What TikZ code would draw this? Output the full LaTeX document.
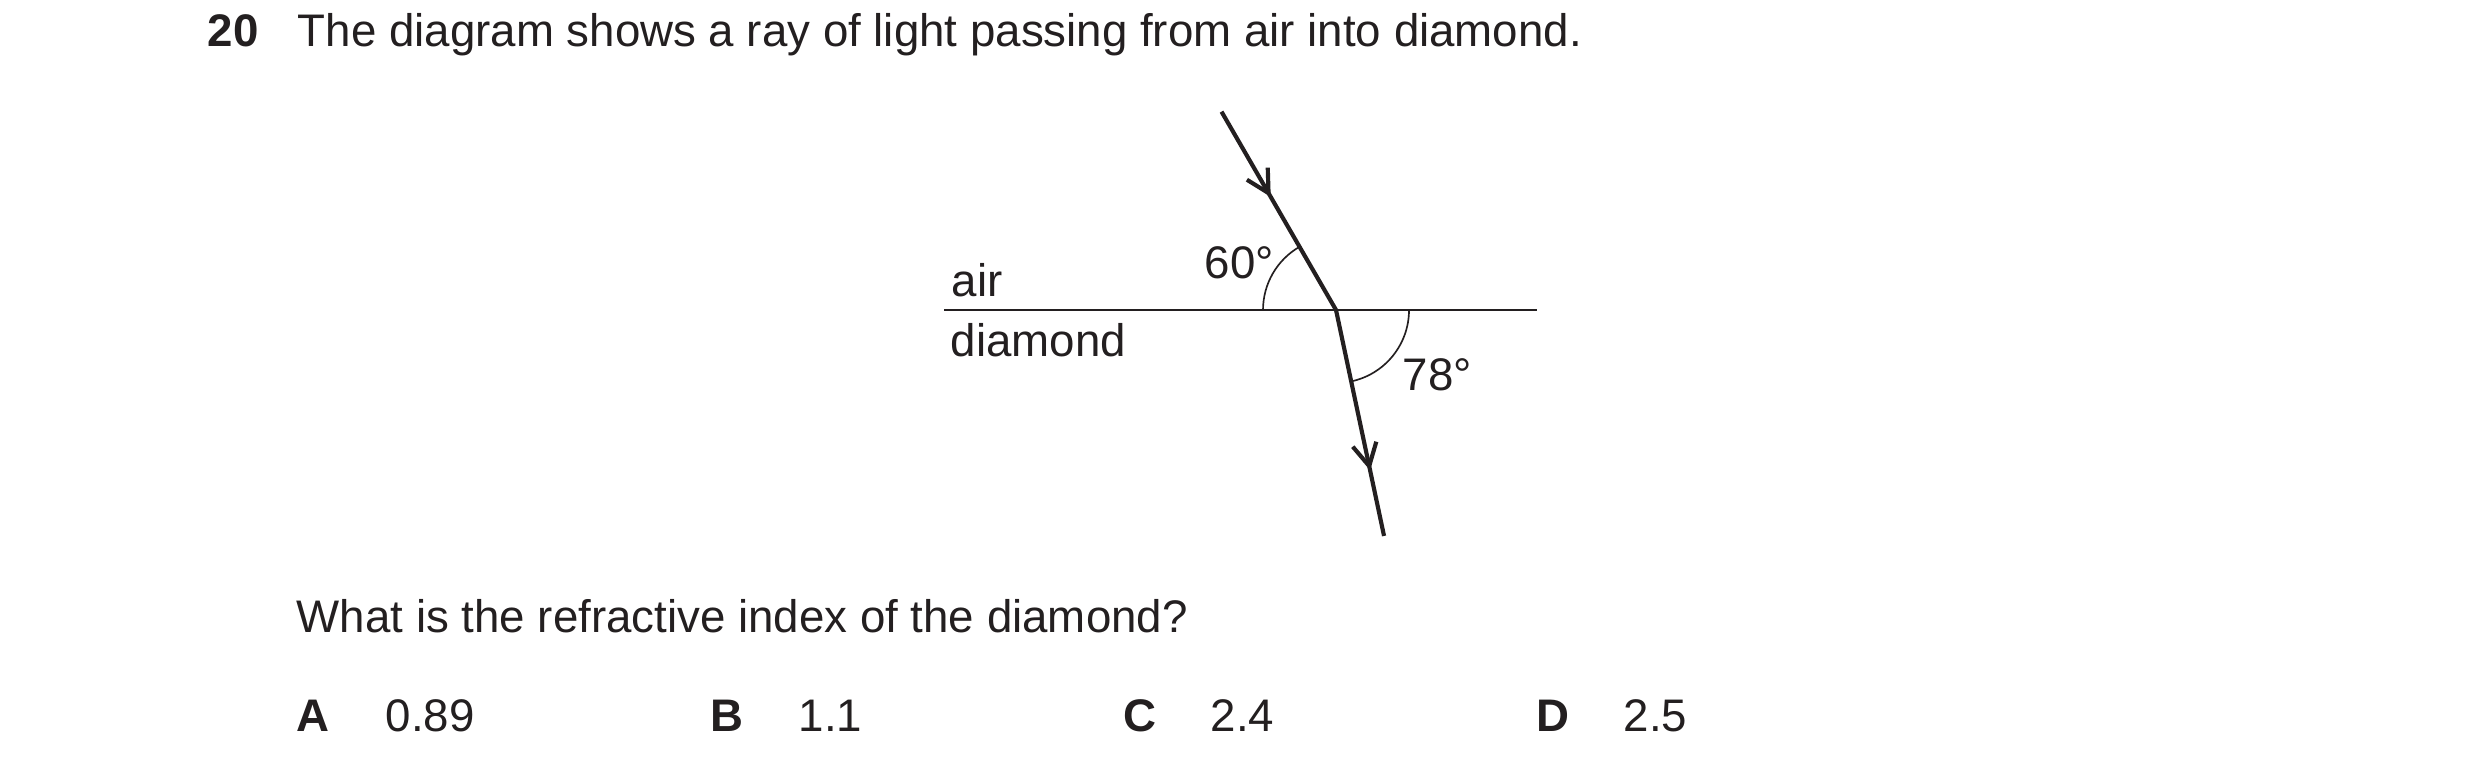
\documentclass[tikz,border=0pt]{standalone}
\usepackage{fontspec}
\setmainfont{Liberation Sans}
\usepackage{tikz}
\usetikzlibrary{arrows.meta,decorations.markings,calc}

\begin{document}
\fontsize{11pt}{13pt}\selectfont
\begin{tikzpicture}[x=0.2409pt,y=0.2409pt,
    every node/.style={inner sep=0pt, anchor=base west, text=ink},
    ray/.style={draw=ink, line width=1pt},
    midarrow/.style={postaction={decorate, decoration={markings,
        mark=at position #1 with {\arrow[ink, line width=1pt]{Straight Barb[length=5.4pt, width=5.8pt]}}}}},
    surface/.style={draw=ink, line width=0.65pt},
    anglearc/.style={draw=ink, line width=0.4pt}]
            % dark print ink for lines and text
            \definecolor{ink}{HTML}{231F20}
            \useasboundingbox (0,0) rectangle (2480,-772);
            % question text
            \node[font=\bfseries] (num) at (207,-47) {20};
            \node (title) at (297,-47) {The diagram shows a ray of light passing from air into diamond.};
            % boundary and the ray
            \coordinate (O) at (1336,-310);
            \coordinate (lineL) at (944,-310);
            \coordinate (lineR) at (1537,-310);
            \coordinate (src) at ($(O)+(120:229)$);
            \coordinate (dst) at ($(O)+(-78:231)$);
            \draw[surface] (lineL) -- (lineR);
            \draw[ray, midarrow=0.43] (src) -- (O);
            \draw[ray, midarrow=0.71] (O) -- (dst);
            \draw[anglearc] ($(O)+(180:73)$) arc[start angle=180, end angle=120, radius=73];
            \draw[anglearc] ($(O)+(0:73)$) arc[start angle=0, end angle=-78, radius=73];
            \node (air) at (951,-297) {air};
            \node (diamond) at (950,-357) {diamond};
            \node (incang) at (1204,-279) {60°};
            \node (refang) at (1402,-391) {78°};
            % question and options
            \node (question) at (296,-633) {What is the refractive index of the diamond?};
            \node[font=\bfseries] (optA) at (296,-732) {A};
            \node (valA) at (385,-732) {0.89};
            \node[font=\bfseries] (optB) at (710,-732) {B};
            \node (valB) at (798,-732) {1.1};
            \node[font=\bfseries] (optC) at (1123,-732) {C};
            \node (valC) at (1210,-732) {2.4};
            \node[font=\bfseries] (optD) at (1536,-732) {D};
            \node (valD) at (1623,-732) {2.5};
        \end{tikzpicture}
\end{document}
